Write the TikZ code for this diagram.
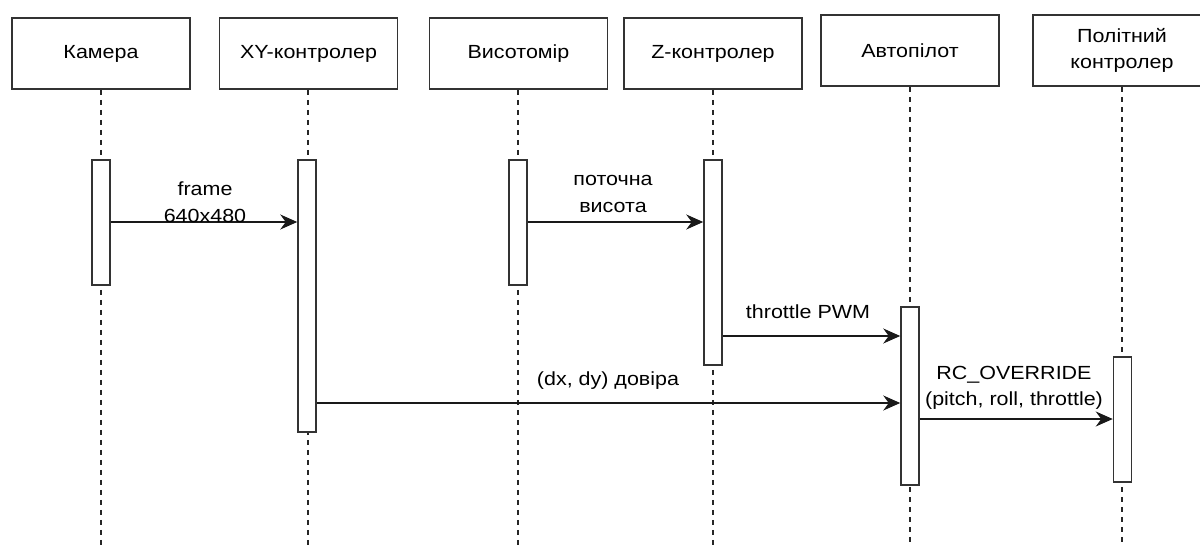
\documentclass[tikz,border=0pt]{standalone}
\usepackage{fontspec}
\setmainfont{Liberation Sans}[FakeStretch=1.13]
\usetikzlibrary{arrows.meta}
\begin{document}
\begin{tikzpicture}[x=1pt,y=-1pt,
  every node/.style={font=\fontsize{19}{26.5}\selectfont, text=black},
  actor/.style={draw=black!80, line width=1.5pt, fill=white, minimum width=178pt, minimum height=71pt, inner sep=0pt, align=center},
  bar/.style={draw=black!80, line width=1.5pt, fill=white, minimum width=18pt, inner sep=0pt},
  life/.style={draw=black!85, line width=1.4pt, dash pattern=on 5pt off 5pt},
  msg/.style={draw=black!90, line width=1.5pt, -{Stealth[length=17pt,width=15pt,inset=5.5pt]}},
  lbl/.style={align=center, inner sep=0pt}]
\useasboundingbox (0,0) rectangle (1200,546);
% actors
\node[actor] (cam) at (101,53.5) {Камера};
\node[actor] (xy)  at (308.5,53.5) {XY-контролер};
\node[actor] (alt) at (518.5,53.5) {Висотомір};
\node[actor] (zc)  at (713,53.5) {Z-контролер};
\node[actor] (ap)  at (910,50.5) {Автопілот};
\node[actor] (fc)  at (1122,50.5) {Політний\\контролер};
% lifeline ends
\coordinate (camE) at (101,546);
\coordinate (xyE) at (308,546);
\coordinate (altE) at (518,546);
\coordinate (zcE) at (713,546);
\coordinate (apE) at (910,546);
\coordinate (fcE) at (1122,546);
\draw[life] (cam.south) -- (camE);
\draw[life] (xy.south -| xyE) -- (xyE);
\draw[life] (alt.south -| altE) -- (altE);
\draw[life] (zc.south) -- (zcE);
\draw[life] (ap.south) -- (apE);
\draw[life] (fc.south) -- (fcE);
% activation bars
\node[bar, minimum height=125pt] (camB) at (101,222.5) {};
\node[bar, minimum height=272pt] (xyB) at (307,296) {};
\node[bar, minimum height=125pt] (altB) at (518,222.5) {};
\node[bar, minimum height=205pt] (zcB) at (713,262.5) {};
\node[bar, minimum height=178pt] (apB) at (910,396) {};
\node[bar, minimum height=125pt] (fcB) at (1122.5,419.5) {};
% message levels
\coordinate (m1) at (0,222);
\coordinate (m2) at (0,336);
\coordinate (m3) at (0,403);
\coordinate (m4) at (0,419);
\draw[msg] (camB.east |- m1) -- (xyB.west |- m1);
\draw[msg] (altB.east |- m1) -- (zcB.west |- m1);
\draw[msg] (zcB.east |- m2) -- (apB.west |- m2);
\draw[msg] (xyB.east |- m3) -- (apB.west |- m3);
\draw[msg] (apB.east |- m4) -- (fcB.west |- m4);
% labels
\node[lbl] (l1) at (205,202) {frame\\640x480};
\node[lbl] (l2) at (613,194) {поточна\\висота};
\node[lbl] (l3) at (808,312) {throttle PWM};
\node[lbl] (l4) at (608,381) {(dx, dy) довіра};
\node[lbl] (l5) at (1014,388) {RC\_OVERRIDE\\(pitch, roll, throttle)};
\end{tikzpicture}
\end{document}
